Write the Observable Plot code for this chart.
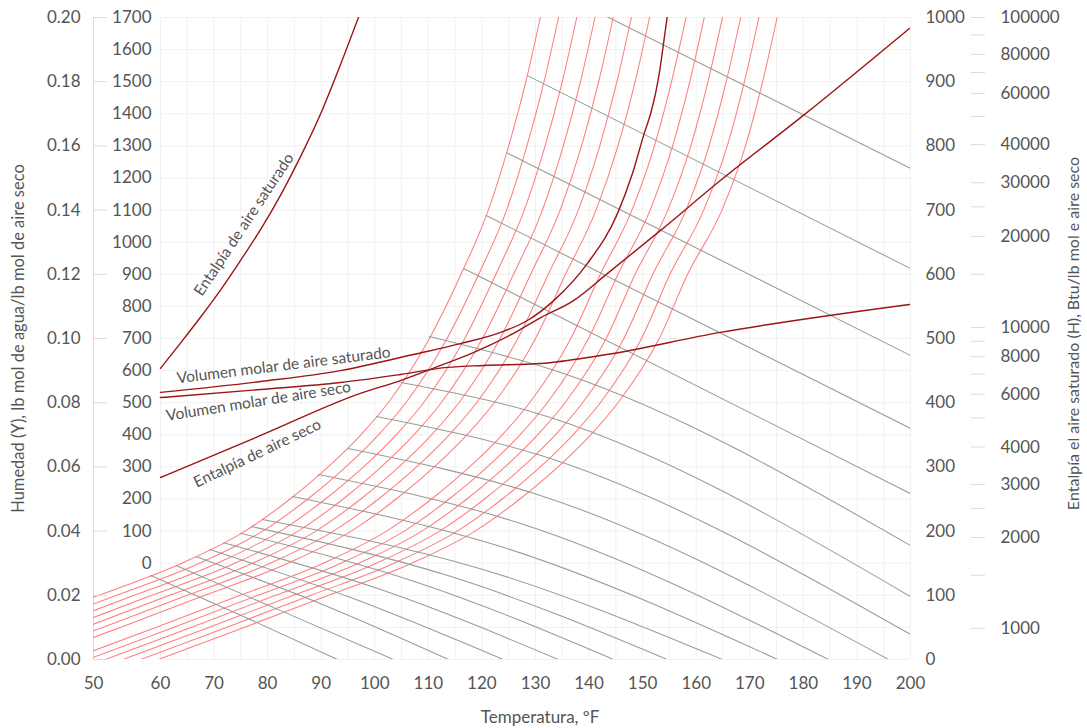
<!DOCTYPE html>
<html>
<head>
<meta charset="utf-8">
<script src="https://cdn.jsdelivr.net/npm/d3@7"></script>
<script src="https://cdn.jsdelivr.net/npm/@observablehq/plot@0.6"></script>
<style>
  html, body { margin: 0; padding: 0; background: #ffffff; }
  #chart svg { display: block; }
</style>
</head>
<body>
<div id="chart"></div>
<script>
// ---------- axes / ticks ----------
const xDomain = [47.5, 200];
const xTickLabels = [50, 60, 70, 80, 90, 100, 110, 120, 130, 140, 150, 160, 170, 180, 190, 200];
const humTicks = [0, 0.02, 0.04, 0.06, 0.08, 0.10, 0.12, 0.14, 0.16, 0.18, 0.20];
const innerAxisTicks = [0, 100, 200, 300, 400, 500, 600, 700, 800, 900, 1000, 1100, 1200, 1300, 1400, 1500, 1600, 1700];
const rightAxisTicks = [0, 100, 200, 300, 400, 500, 600, 700, 800, 900, 1000];
const logAxisTicks = [1000, 1500, 2000, 2500, 3000, 4000, 5000, 6000, 7000, 8000, 9000, 10000,
  15000, 20000, 25000, 30000, 40000, 50000, 60000, 70000, 80000, 90000, 100000];
const logAxisLabels = [1000, 2000, 3000, 4000, 6000, 8000, 10000, 20000, 30000, 40000, 60000, 80000, 100000];

// secondary axes expressed on the humidity scale (calibrated from the printed tick positions)
const innerAxis = d3.scaleLinear([0, 1700], [0.03, 0.20]);
const rightAxis = d3.scaleLinear([0, 1000], [0, 0.20]);
const logAxisValues = [1000, 2000, 10000, 20000, 40000, 60000, 80000, 100000];
const logAxisHums = [0.0097, 0.0380, 0.1034, 0.1318, 0.1604, 0.1763, 0.1885, 0.2000];
const logAxis = d3.scaleLog(logAxisValues, logAxisHums);

// ---------- red curves: temperature (ºF) where each curve crosses each humidity level ----------
const humidityLevels = [0, 0.01, 0.02, 0.03, 0.04, 0.05, 0.06, 0.07, 0.08, 0.10, 0.12, 0.14, 0.16, 0.18, 0.20];
const satCurveTemps = [
  [16.7, 32.7, 48.5, 64.0, 75.8, 84.2, 91.3, 97.4, 102.5, 110.2, 116.1, 121.2, 125.0, 128.2, 130.9],
  [20.0, 36.0, 51.8, 67.3, 79.1, 87.5, 94.6, 100.7, 105.8, 113.5, 119.4, 124.6, 128.4, 131.6, 134.3],
  [23.3, 39.3, 55.1, 70.6, 82.4, 90.8, 97.9, 104.0, 109.1, 116.8, 122.6, 127.9, 131.8, 135.0, 137.7],
  [26.6, 42.6, 58.4, 73.9, 85.7, 94.1, 101.2, 107.3, 112.4, 120.1, 125.9, 131.3, 135.2, 138.4, 141.1],
  [29.9, 45.9, 61.7, 77.2, 89.0, 97.4, 104.5, 110.6, 115.7, 123.4, 129.1, 134.6, 138.6, 141.8, 144.5],
  [33.2, 49.2, 65.0, 80.5, 92.3, 100.7, 107.8, 113.9, 119.0, 126.7, 132.4, 138.0, 142.0, 145.2, 147.9],
  [36.5, 52.5, 68.3, 83.8, 95.6, 104.0, 111.1, 117.2, 122.3, 130.0, 135.6, 141.3, 145.4, 148.6, 151.3],
  [43.1, 59.1, 74.9, 90.4, 102.2, 110.6, 117.7, 123.8, 128.9, 136.6, 142.1, 148.0, 152.2, 155.4, 158.1],
  [46.4, 62.4, 78.2, 93.7, 105.5, 113.9, 121.0, 127.1, 132.2, 139.9, 145.4, 151.4, 155.6, 158.8, 161.5],
  [49.7, 65.7, 81.5, 97.0, 108.8, 117.2, 124.3, 130.4, 135.5, 143.2, 148.6, 154.7, 159.0, 162.2, 164.9],
  [53.0, 69.0, 84.8, 100.3, 112.1, 120.5, 127.6, 133.7, 138.8, 146.5, 151.9, 158.1, 162.4, 165.6, 168.3],
  [56.3, 72.3, 88.1, 103.6, 115.4, 123.8, 130.9, 137.0, 142.1, 149.8, 155.1, 161.4, 165.8, 169.0, 171.7],
  [59.6, 75.6, 91.4, 106.9, 118.7, 127.1, 134.2, 140.3, 145.4, 153.1, 158.4, 164.8, 169.2, 172.4, 175.1]
];

// ---------- gray lines (start on the saturation curve, run down to the right) ----------
const grayLineTemps = [
  [58.2, 75.9, 93.05], [62.9, 83.3, 103.5], [66.6, 89.9, 113.8], [69.2, 95.5, 124.0],
  [71.8, 101.1, 134.3], [74.9, 108.5, 144.6], [77.0, 114.1, 154.6], [79.0, 119.7, 164.9],
  [84.6, 123.5, 175.2], [89.5, 127.2, 184.7], [95.0, 130.9, 195.9], [100.3, 130.9, 200],
  [104.9, 128.5, 200], [110.2, 134.7, 200], [116.6, 200], [120.8, 200], [124.6, 200],
  [128.5, 200], [143.3, 200]
];
const grayLineHums = [
  [0.0262, 0.0131, 0], [0.0293, 0.0146, 0], [0.0321, 0.0174, 0], [0.0343, 0.0193, 0],
  [0.0364, 0.0218, 0], [0.0393, 0.0237, 0], [0.0414, 0.0259, 0], [0.0436, 0.0283, 0],
  [0.0508, 0.0352, 0], [0.0576, 0.0424, 0], [0.0657, 0.0511, 0], [0.0757, 0.0636, 0.0078],
  [0.0863, 0.0776, 0.0196], [0.1006, 0.0894, 0.0355], [0.1218, 0.0517], [0.1383, 0.0720],
  [0.1579, 0.0947], [0.1819, 0.1218], [0.2003, 0.1530]
];

// ---------- dark red property curves ----------
const entSatTemps = [60, 63.7, 67.5, 71.2, 74.9, 78.7, 82.4, 86.1, 89.9, 93.6, 97.0];
const entSatHums  = [0.0907, 0.0985, 0.1067, 0.1151, 0.1242, 0.1340, 0.1446, 0.1565, 0.1700, 0.1853, 0.2002];
const volSatTemps = [60, 78.7, 93.6, 107.2, 116.0, 123.5, 128.5, 133.4, 139.7, 145.3, 148.1, 150.3, 151.5, 152.4, 153.2, 153.8, 154.6];
const volSatHums  = [0.0832, 0.0866, 0.0900, 0.0950, 0.0984, 0.1019, 0.1056, 0.1118, 0.1234, 0.1389, 0.1514, 0.1639, 0.1701, 0.1763, 0.1835, 0.1907, 0.2003];
const volDryTemps = [60, 78.7, 93.6, 104.8, 113.6, 120.3, 131.0, 142.2, 164.5, 199.8];
const volDryHums  = [0.0816, 0.0841, 0.0863, 0.0888, 0.0910, 0.0916, 0.0922, 0.0947, 0.1019, 0.1106];
const entDryTemps = [60, 78.7, 97.3, 104.8, 112.3, 118.4, 125.9, 131.0, 137.1, 143.4, 153.3, 164.5, 180.0, 199.8];
const entDryHums  = [0.0567, 0.0698, 0.0829, 0.0869, 0.0916, 0.0956, 0.1016, 0.1065, 0.1118, 0.1202, 0.1336, 0.1492, 0.1695, 0.1966];

const curveLabels = [
  {label: "Entalpía de aire saturado", T: 75.6, Y: 0.1355, angle: -56.5},
  {label: "Volumen molar de aire saturado", T: 83.0, Y: 0.0916, angle: -7},
  {label: "Volumen molar de aire seco", T: 78.3, Y: 0.0804, angle: -9},
  {label: "Entalpía de aire seco", T: 78.1, Y: 0.0642, angle: -25.5}
];

const yTitle = "Humedad (Y), lb mol de agua/lb mol de aire seco";
const y2Title = "Entalpía el aire saturado (H), Btu/lb mol e aire seco";
const xTitle = "Temperatura, ºF";

// ---------- tables built from the arrays ----------
const redRows = satCurveTemps.flatMap((temps, i) => temps.map((T, j) => ({curve: i, T, Y: humidityLevels[j]})));
const grayRows = grayLineTemps.flatMap((temps, i) => temps.map((T, j) => ({line: i, T, Y: grayLineHums[i][j]})));
const toRows = (name, temps, hums) => temps.map((T, j) => ({name, T, Y: hums[j]}));
const darkRows = [
  ...toRows("entSat", entSatTemps, entSatHums),
  ...toRows("volSat", volSatTemps, volSatHums),
  ...toRows("volDry", volDryTemps, volDryHums),
  ...toRows("entDry", entDryTemps, entDryHums)
];

const gridColor = "#f1f1f1";
const axisLineColor = "#dcdcdc";

const chart = Plot.plot({
  width: 1087,
  height: 728,
  marginLeft: 93,
  marginRight: 177,
  marginTop: 17,
  marginBottom: 69,
  x: {domain: xDomain},
  y: {domain: [0, 0.2]},
  style: {fontFamily: "Lato, 'Open Sans', sans-serif", fontSize: "17px", color: "#555", background: "#fff", overflow: "visible"},
  marks: [
    Plot.ruleX(d3.range(60, 201, 5), {stroke: gridColor}),
    Plot.ruleY(d3.range(0, 0.2001, 0.01), {x1: 60, x2: 200, stroke: gridColor}),
    Plot.ruleX([xDomain[0]], {stroke: axisLineColor}),
    Plot.line(redRows, {x: "T", y: "Y", z: "curve", stroke: "#ff7d7d", strokeWidth: 1.05, curve: "monotone-x", clip: true}),
    Plot.line(grayRows, {x: "T", y: "Y", z: "line", stroke: "#9a9a9a", strokeWidth: 1.05, curve: "monotone-x", clip: true}),
    Plot.line(darkRows, {x: "T", y: "Y", z: "name", stroke: "#9c1414", strokeWidth: 1.4, curve: "monotone-x", clip: true}),
    Plot.text(curveLabels, {x: "T", y: "Y", text: "label", rotate: "angle", fontSize: 15.5, fill: "#555"}),
    // left humidity axis
    Plot.axisY(humTicks, {anchor: "left", tickSize: -14, tickFormat: () => "", stroke: axisLineColor, label: null}),
    Plot.axisY(humTicks, {anchor: "left", tickSize: 0, tickPadding: 13, tickFormat: d3.format(".2f"), label: null}),
    // inner 0–1700 axis
    Plot.axisY(innerAxisTicks.map(innerAxis), {anchor: "left", tickSize: 0, tickPadding: 0, dx: 58,
      tickFormat: y => String(Math.round(innerAxis.invert(y))), label: null}),
    // right 0–1000 axis
    Plot.axisY(rightAxisTicks.map(rightAxis), {anchor: "right", tickSize: 0, tickPadding: 15,
      tickFormat: y => String(Math.round(rightAxis.invert(y))), label: null}),
    // far right log axis
    Plot.axisY(logAxisTicks.map(logAxis), {anchor: "right", tickSize: 14, dx: 60, tickFormat: () => "", stroke: axisLineColor, label: null}),
    Plot.axisY(logAxisLabels.map(logAxis), {anchor: "right", tickSize: 0, tickPadding: 90,
      tickFormat: y => String(Math.round(logAxis.invert(y))), label: null}),
    // x axis
    Plot.axisX(xTickLabels.map((t, i) => i === 0 ? xDomain[0] : t), {tickSize: 0, tickPadding: 17,
      tickFormat: x => x === xDomain[0] ? String(xTickLabels[0]) : String(x), label: null}),
    // titles
    Plot.text([yTitle], {frameAnchor: "left", textAnchor: "middle", lineAnchor: "middle", dx: -75, rotate: -90, fontSize: 16.5, fill: "#555"}),
    Plot.text([y2Title], {frameAnchor: "right", textAnchor: "middle", lineAnchor: "middle", dx: 163, dy: -5, rotate: -90, fontSize: 16, fill: "#555"}),
    Plot.text([xTitle], {frameAnchor: "bottom", textAnchor: "middle", lineAnchor: "middle", dx: 38, dy: 58, fontSize: 17, fill: "#555"})
  ]
});
document.getElementById("chart").appendChild(chart);
</script>
</body>
</html>
